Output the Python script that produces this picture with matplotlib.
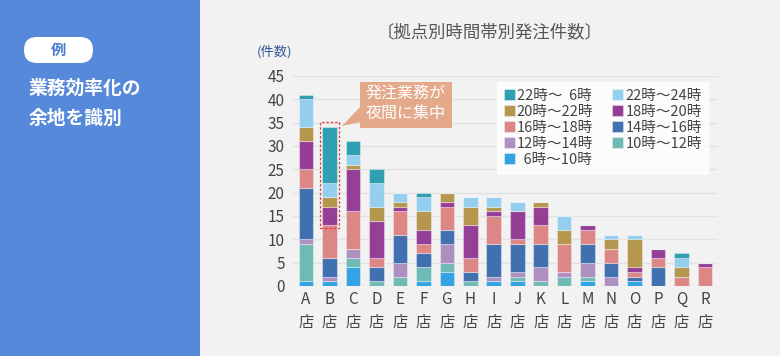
import matplotlib as mpl
mpl.use('Agg')
import matplotlib.pyplot as plt
from matplotlib.patches import FancyBboxPatch, Rectangle, Polygon
from matplotlib.transforms import IdentityTransform
import numpy as np

plt.rcParams['font.family'] = ['Noto Sans CJK JP', 'DejaVu Sans']

stores = ["A", "B", "C", "D", "E", "F", "G", "H", "I", "J", "K", "L", "M", "N", "O", "P", "Q", "R"]

# stacked from the bottom up
slots = ["  6時～10時", "10時～12時", "12時～14時", "14時～16時", "16時～18時",
         "18時～20時", "20時～22時", "22時～24時", "22時～  6時"]
colors = ["#34a3e3", "#6fbab5", "#ad8fc0", "#4170b0", "#dd8686",
          "#953e96", "#b5964f", "#94cfef", "#2f9fb1"]

v_06_10 = [1, 1, 4, 0, 0, 1, 3, 0, 1, 1, 0, 0, 1, 0, 1, 0, 0, 0]
v_10_12 = [8, 0, 2, 1, 2, 3, 2, 1, 0, 1, 1, 2, 1, 0, 0, 0, 0, 0]
v_12_14 = [1, 1, 2, 0, 3, 0, 4, 0, 1, 1, 3, 1, 3, 2, 0, 0, 0, 0]
v_14_16 = [11, 4, 0, 3, 6, 3, 3, 2, 7, 6, 5, 0, 4, 3, 1, 4, 0, 0]
v_16_18 = [4, 7, 8, 2, 5, 2, 5, 3, 6, 1, 4, 6, 3, 3, 1, 2, 2, 4]
v_18_20 = [6, 4, 9, 8, 1, 3, 1, 7, 1, 6, 4, 0, 1, 0, 1, 2, 0, 1]
v_20_22 = [3, 2, 1, 3, 1, 4, 2, 4, 1, 0, 1, 3, 0, 2, 6, 0, 2, 0]
v_22_24 = [6, 3, 2, 5, 2, 3, 0, 2, 2, 2, 0, 3, 0, 1, 1, 0, 2, 0]
v_22_06 = [1, 12, 3, 3, 0, 1, 0, 0, 0, 0, 0, 0, 0, 0, 0, 0, 1, 0]
series = [v_06_10, v_10_12, v_12_14, v_14_16, v_16_18, v_18_20, v_20_22, v_22_24, v_22_06]

W, H = 780, 356
fig = plt.figure(figsize=(7.8, 3.56), dpi=100)
fig.patches.append(Rectangle((0, 0), 1, 1, transform=fig.transFigure,
                             facecolor="#f2f2f2", edgecolor="none", zorder=-10))
pix = IdentityTransform()

def fx(px):
    return px / W

def fy(py):
    return 1 - py / H

# left blue panel
fig.patches.append(Rectangle((0, 0), 200, H, transform=pix,
                             facecolor="#5689d9", edgecolor="none"))
fig.patches.append(FancyBboxPatch((24, H - 63), 69, 26,
                                  boxstyle="round,pad=0,rounding_size=13",
                                  transform=pix, facecolor="white", edgecolor="none"))
fig.text(fx(58), fy(50), "例", color="#4a7fd0", fontsize=11, fontweight="bold",
         ha="center", va="center")
fig.text(fx(29), fy(88), "業務効率化の", color="white", fontsize=13.5, fontweight="bold",
         ha="left", va="center")
fig.text(fx(29), fy(118), "余地を識別", color="white", fontsize=13.5, fontweight="bold",
         ha="left", va="center")

# chart
ax = fig.add_axes([fx(293), fy(286), fx(718) - fx(293), fy(76) - fy(286)])
ax.set_facecolor("#f2f2f2")
x = np.arange(len(stores))
bottom = np.zeros(len(stores))
bars = {}
for name, col, vals in zip(slots, colors, series):
    vals = np.array(vals)
    bars[name] = ax.bar(x, vals, 0.62, bottom=bottom, color=col,
                        edgecolor=(1, 1, 1, 0.35), linewidth=0.8, label=name, zorder=3)
    bottom += vals

ax.set_xlim(-0.55, len(stores) - 0.45)
ax.set_ylim(0, 45)
ax.set_yticks(range(0, 46, 5))
ax.yaxis.grid(True, color="#e2e2e2", linewidth=1, zorder=0)
for s in ax.spines.values():
    s.set_visible(False)
ax.tick_params(length=0, labelsize=11, colors="#444444")
ax.tick_params(axis="y", pad=6)
ax.set_xticks(x)
ax.set_xticklabels([s + "\n店" for s in stores], linespacing=1.45)

fig.text(fx(490), fy(32), "〔拠点別時間帯別発注件数〕", color="#555555", fontsize=12.5,
         ha="center", va="center")
fig.text(fx(257), fy(52), "(件数)", color="#35599a", fontsize=9.5, ha="left", va="center")

# legend
order = [8, 6, 4, 2, 0, 7, 5, 3, 1]
leg = ax.legend([bars[slots[i]] for i in order], [slots[i] for i in order],
                ncol=2, loc="upper left", bbox_to_anchor=(fx(497), fy(82)),
                bbox_transform=fig.transFigure, fontsize=10.5, frameon=True,
                fancybox=False, handlelength=0.75, handleheight=0.75,
                handletextpad=0.15, columnspacing=1.3, labelspacing=0.14,
                borderpad=0.45, borderaxespad=0)
leg.get_frame().set_facecolor("white")
leg.get_frame().set_edgecolor("white")
for t in leg.get_texts():
    t.set_color("#444444")

# callout
fig.patches.append(Rectangle((360, H - 128), 92, 46, transform=pix,
                             facecolor="#e4a98a", edgecolor="none"))
fig.patches.append(Polygon([(361, H - 106), (342, H - 126), (361, H - 122)],
                           closed=True, transform=pix,
                           facecolor="#e4a98a", edgecolor="none"))
fig.text(fx(406), fy(104), "発注業務が\n夜間に集中", color="white", fontsize=11.5,
         ha="center", va="center", linespacing=1.2)
fig.patches.append(Rectangle((320, H - 228), 19, 106, transform=pix,
                             facecolor="none", edgecolor="#e03a3a",
                             linestyle=(0, (2, 1.5)), linewidth=0.9))

fig.savefig("out.png", dpi=100)
